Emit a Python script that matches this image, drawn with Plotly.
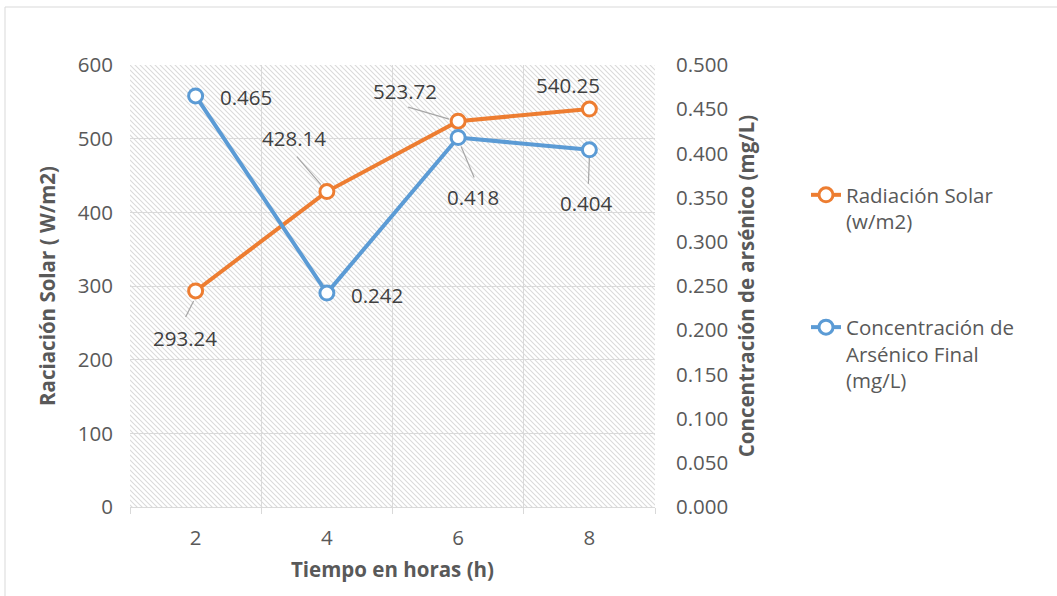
import base64
import plotly.graph_objects as go

# ---------------- data ----------------
hours = [2, 4, 6, 8]
radiacion = [293.24, 428.14, 523.72, 540.25]
arsenico = [0.465, 0.242, 0.418, 0.404]
left_ticks = [0, 100, 200, 300, 400, 500, 600]
right_ticks = [0.0, 0.05, 0.10, 0.15, 0.20, 0.25, 0.30, 0.35, 0.40, 0.45, 0.50]

# ---------------- style ----------------
ORANGE = "#ED7D31"
BLUE = "#5B9BD5"
GRID = "#d9d9d9"
TICK = "#595959"
LABEL = "#404040"
LEADER = "#a6a6a6"
FONT = "Open Sans"
FS = 20.5
TFS = 20.5

W, H = 1057, 596
ML, MR, MT, MB = 130, 402, 65, 89
PW, PH = W - ML - MR, H - MT - MB

# hatched plot background (SVG pattern)
svg = f'''<svg xmlns="http://www.w3.org/2000/svg" width="{PW}" height="{PH}" viewBox="0 0 {PW} {PH}">
<defs><pattern id="p" patternUnits="userSpaceOnUse" width="5" height="5">
<path d="M-1,-1 L6,6 M-1,4 L1,6 M4,-1 L6,1" stroke="#dadada" stroke-width="1.1"/>
</pattern></defs>
<rect width="{PW}" height="{PH}" fill="white"/>
<rect width="{PW}" height="{PH}" fill="url(#p)"/>
</svg>'''
svg_uri = "data:image/svg+xml;base64," + base64.b64encode(svg.encode()).decode()

fig = go.Figure()
fig.add_trace(go.Scatter(
    x=hours, y=radiacion, name="Radiación Solar<br>(w/m2)", mode="lines+markers",
    line=dict(color=ORANGE, width=4),
    marker=dict(symbol="circle", size=14, color="white", line=dict(color=ORANGE, width=3)),
    legendgroup="a", yaxis="y",
))
fig.add_trace(go.Scatter(
    x=hours, y=arsenico, name="Concentración de<br>Arsénico Final<br>(mg/L)", mode="lines+markers",
    line=dict(color=BLUE, width=4),
    marker=dict(symbol="circle", size=14, color="white", line=dict(color=BLUE, width=3)),
    legendgroup="b", yaxis="y2",
))

# data-label placement (screen pixels, y down): label centre offset, optional leader segment
rad_lab = [(-11, 47), (-33, -54), (-53, -30), (-21, -24)]
rad_lead = [((-2, 10), (-10, 26)), ((-30, -35), (-6, -7)), ((-50, -14), (-9, -2)), None]
ars_lab = [(50, 1), (50, 2), (15, 60), (-3, 53)]
ars_lead = [None, None, ((3, 9), (16, 40)), ((0, 8), (-1, 34))]

annotations = []
leaders = []
for ys, labs, leads, yref, fmt in [(radiacion, rad_lab, rad_lead, "y", "{:.2f}"),
                                   (arsenico, ars_lab, ars_lead, "y2", "{:.3f}")]:
    for xv, yv, (dx, dy), lead in zip(hours, ys, labs, leads):
        annotations.append(dict(
            x=xv, y=yv, xref="x", yref=yref, text=fmt.format(yv), showarrow=False,
            xshift=dx, yshift=-dy, font=dict(family=FONT, size=FS, color=LABEL),
        ))
        if lead:
            (x0, y0), (x1, y1) = lead
            leaders.append(dict(
                type="line", xref="x", yref=yref, xsizemode="pixel", ysizemode="pixel",
                xanchor=xv, yanchor=yv, x0=x0, x1=x1, y0=-y0, y1=-y1,
                line=dict(color=LEADER, width=1.2), layer="above",
            ))

def px_x(p):
    return (p - ML) / PW

def px_y(p):
    return (H - MB - p) / PH

frame = dict(type="rect", xref="paper", yref="paper",
             x0=px_x(5), x1=px_x(1080), y0=px_y(620), y1=px_y(7),
             line=dict(color=GRID, width=1), fillcolor="rgba(0,0,0,0)", layer="below")

fig.update_layout(
    width=W, height=H,
    margin=dict(l=ML, r=MR, t=MT, b=MB, pad=0),
    paper_bgcolor="white", plot_bgcolor="rgba(0,0,0,0)",
    font=dict(family=FONT, size=FS, color=TICK),
    images=[dict(source=svg_uri, xref="paper", yref="paper", x=0, y=1, sizex=1, sizey=1,
                 xanchor="left", yanchor="top", sizing="stretch", layer="below")],
    xaxis=dict(
        range=[1, 9], tickvals=hours, ticktext=[str(h) for h in hours],
        showgrid=False, ticks="", zeroline=False,
        showline=True, linecolor=GRID, linewidth=1,
        minor=dict(tick0=1, dtick=2, showgrid=True, gridcolor=GRID, gridwidth=1,
                   ticks="outside", ticklen=6, tickcolor=GRID),
        tickfont=dict(family=FONT, size=FS, color=TICK),
        ticklabelstandoff=12,
        title=dict(text="<b>Tiempo en horas (h)</b>", font=dict(family=FONT, size=TFS, color=TICK),
                   standoff=13),
    ),
    yaxis=dict(
        range=[0, 600], tickvals=left_ticks, showgrid=True, gridcolor=GRID, gridwidth=1,
        zeroline=False, showline=False, ticks="",
        tickfont=dict(family=FONT, size=FS, color=TICK), ticklabelstandoff=16,
        title=dict(text="<b>Raciación Solar ( W/m2)</b>", font=dict(family=FONT, size=TFS, color=TICK),
                   standoff=16),
    ),
    yaxis2=dict(
        range=[0, 0.5], tickvals=right_ticks, tickformat=".3f", overlaying="y", side="right",
        showgrid=False, zeroline=False, showline=False, ticks="",
        tickfont=dict(family=FONT, size=FS, color=TICK), ticklabelstandoff=20,
        title=dict(text="<b>Concentración de arsénico (mg/L)</b>", font=dict(family=FONT, size=TFS, color=TICK),
                   standoff=12),
    ),
    legend=dict(
        x=px_x(806), y=px_y(175), xanchor="left", yanchor="top",
        font=dict(family=FONT, size=FS, color=TICK), valign="top",
        tracegroupgap=76, bgcolor="rgba(0,0,0,0)",
    ),
    annotations=annotations,
    shapes=[frame] + leaders,
    showlegend=True,
)

fig.write_html("out.html")
